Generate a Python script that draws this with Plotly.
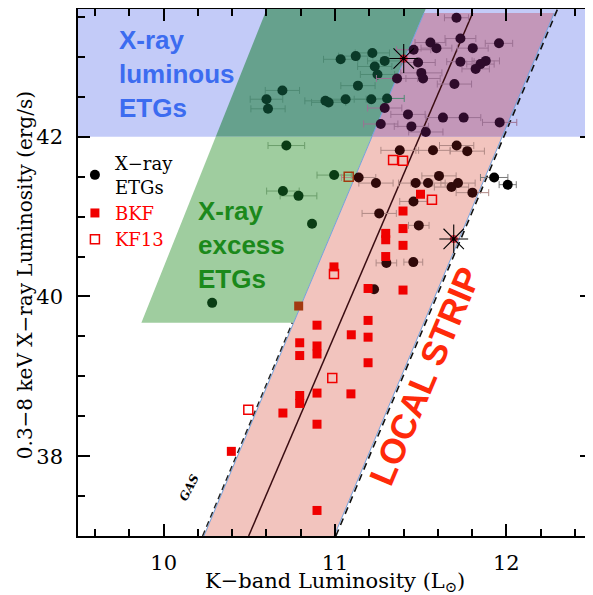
import plotly.graph_objects as go

# ---------------- data ----------------
# X-ray detected ETGs: log L_K, log L_X, horizontal error (dex)
etg_logLK = [11.709, 11.557, 11.592, 11.732, 11.804, 11.957, 11.459, 11.485, 11.504, 11.514,
             11.732, 11.880, 11.849, 11.821, 11.697, 11.426, 11.446, 11.530, 11.630, 11.751,
             11.961, 11.267, 11.290, 11.304, 11.362, 11.218, 11.121, 11.033, 11.290, 11.232,
             11.248, 11.134, 11.062, 10.944, 10.963, 11.212, 10.693, 10.600, 10.609, 10.716,
             10.696, 10.787, 10.866, 10.283, 10.995, 11.138, 11.239, 11.378, 11.572, 11.710,
             11.772, 11.607, 11.471, 11.543, 11.680, 11.718, 11.802, 11.929, 12.008, 11.458,
             11.258, 11.489, 11.457, 11.300, 11.228]
etg_logLX = [43.49, 43.18, 43.11, 43.23, 43.11, 43.17, 43.09, 42.93, 42.80, 42.73,
             42.94, 42.95, 42.91, 42.85, 42.66, 42.28, 42.13, 42.06, 42.24, 42.24,
             42.18, 42.16, 42.36, 42.48, 42.73, 43.05, 43.01, 42.97, 42.95, 42.88,
             42.78, 42.64, 42.47, 42.45, 42.43, 42.47, 42.58, 42.47, 42.35, 41.89,
             41.32, 41.26, 40.91, 39.92, 41.52, 41.49, 41.42, 41.83, 41.83, 41.89,
             41.82, 41.51, 41.42, 41.42, 41.37, 41.42, 41.30, 41.49, 41.40, 41.19,
             41.04, 40.89, 40.43, 40.42, 40.09]
etg_err = [0.07, 0.09, 0.09, 0.09, 0.09, 0.08, 0.10, 0.10, 0.12, 0.10,
           0.08, 0.08, 0.08, 0.08, 0.10, 0.10, 0.10, 0.10, 0.10, 0.10,
           0.10, 0.10, 0.10, 0.10, 0.12, 0.10, 0.10, 0.10, 0.10, 0.10,
           0.10, 0.10, 0.12, 0.12, 0.10, 0.10, 0.10, 0.095, 0.10, 0.107,
           0.095, 0.107, 0.0, 0.0, 0.10, 0.10, 0.10, 0.11, 0.10, 0.10,
           0.10, 0.10, 0.10, 0.10, 0.10, 0.10, 0.095, 0.08, 0.05, 0.08,
           0.10, 0.06, 0.055, 0.06, 0.0]

# BKF (filled red squares)
bkf_logLK = [11.499, 11.397, 11.397, 11.296, 11.296, 11.397, 11.296, 11.193, 11.397, 10.994,
             10.788, 10.895, 10.794, 10.794, 10.895, 10.895, 10.794, 10.794, 10.895, 10.696,
             10.895, 10.395, 10.895, 11.095, 11.193, 11.193, 11.193, 11.093]
bkf_logLX = [41.28, 41.07, 40.85, 40.79, 40.71, 40.64, 40.50, 40.10, 40.08, 40.37,
             39.88, 39.64, 39.42, 39.26, 39.38, 39.28, 38.76, 38.66, 38.79, 38.54,
             38.40, 38.06, 37.32, 39.52, 39.70, 39.49, 39.17, 38.78]

# KF13 (open red squares)
kf13_logLK = [11.339, 11.397, 11.080, 11.566, 10.994, 10.984, 10.494]
kf13_logLX = [41.71, 41.70, 41.50, 41.21, 40.28, 38.98, 38.58]

# asterisks
star_logLK = [11.401, 11.693]
star_logLX = [42.98, 40.72]

# axes
x_range = [9.5, 12.5]
y_range = [37.0, 43.6]
x_tickvals = [10, 11, 12]
x_ticktext = ["10", "11", "12"]
y_tickvals = [38, 40, 42]
y_ticktext = ["38", "40", "42"]
x_title = "K−band Luminosity (L<sub>⊙</sub>)"
y_title = "0.3−8 keV X−ray Luminosity (erg/s)"

# region definitions
lx_luminous = 42.0          # lower edge of "X-ray luminous" band
strip_base_y = 37.0
strip_left_x0 = 10.235      # strip left edge at y = 37
strip_right_x0 = 10.995     # strip right edge at y = 37
strip_slope = 5.1           # dlogLX / dlogLK
strip_top = 43.55
green_bottom = 39.67
green_left_x0 = 9.87        # green left edge at y = green_bottom
green_slope = 5.37
center_x0 = 10.496          # solid line at y = 37
center_slope = 5.01


def strip_l(y):
    return strip_left_x0 + (y - strip_base_y) / strip_slope


def strip_r(y):
    return strip_right_x0 + (y - strip_base_y) / strip_slope


def green_l(y):
    return green_left_x0 + (y - green_bottom) / green_slope


def region(x, y):
    upper = y >= lx_luminous
    if strip_l(y) <= x <= strip_r(y) and y <= strip_top:
        return "purple" if upper else "pink"
    if y >= green_bottom and green_l(y) <= x < strip_l(y):
        return "teal" if upper else "green"
    return "blue" if upper else "white"


fill_col = {"blue": "#c3cbf8", "green": "#9fcd9f", "teal": "#66a18d",
            "pink": "#f2c4be", "purple": "#c397b9"}
dot_col = {"white": "#000000", "blue": "#10143a", "teal": "#0a3a28",
           "green": "#0a3d14", "pink": "#300909", "purple": "#2e0b2b"}
err_col = {"white": "#7a7a7a", "blue": "#6a70a0", "teal": "#4f8a74",
           "green": "#6c9e6c", "pink": "#b08a86", "purple": "#9c7193"}
red_col = {"white": "#f00000", "blue": "#f00000", "teal": "#a33a10",
           "green": "#a33a10", "pink": "#f00000", "purple": "#f00000"}


def path(pts):
    return "M " + " L ".join(f"{px:.4f},{py:.4f}" for px, py in pts) + " Z"


shapes = []
# blue band
shapes.append(dict(type="rect", xref="x", yref="y", x0=x_range[0], x1=x_range[1],
                   y0=lx_luminous, y1=y_range[1], fillcolor=fill_col["blue"],
                   line=dict(width=0), layer="below"))
ytop = y_range[1]
polys = {
    "teal": [(green_l(lx_luminous), lx_luminous), (green_l(ytop), ytop),
             (strip_l(ytop), ytop), (strip_l(lx_luminous), lx_luminous)],
    "green": [(green_l(green_bottom), green_bottom), (green_l(lx_luminous), lx_luminous),
              (strip_l(lx_luminous), lx_luminous), (strip_l(green_bottom), green_bottom)],
    "pink": [(strip_l(strip_base_y), strip_base_y), (strip_r(strip_base_y), strip_base_y),
             (strip_r(lx_luminous), lx_luminous), (strip_l(lx_luminous), lx_luminous)],
    "purple": [(strip_l(lx_luminous), lx_luminous), (strip_r(lx_luminous), lx_luminous),
               (strip_r(strip_top), strip_top), (strip_l(strip_top), strip_top)],
}
for k, pts in polys.items():
    shapes.append(dict(type="path", xref="x", yref="y", path=path(pts),
                       fillcolor=fill_col[k], line=dict(width=0), layer="below"))

# strip edges (thin blue)
for f in (strip_l, strip_r):
    shapes.append(dict(type="line", xref="x", yref="y", x0=f(strip_base_y), y0=strip_base_y,
                       x1=f(strip_top), y1=strip_top, line=dict(color="#74a0dc", width=1),
                       layer="below"))
# dashed lines
shapes.append(dict(type="line", xref="x", yref="y", x0=strip_l(strip_base_y) - 0.008, y0=strip_base_y,
                   x1=strip_l(green_bottom) - 0.008, y1=green_bottom,
                   line=dict(color="#222222", width=1.4, dash="6px,4px"), layer="below"))
shapes.append(dict(type="line", xref="x", yref="y", x0=strip_r(strip_base_y) + 0.01, y0=strip_base_y,
                   x1=strip_r(ytop) + 0.01, y1=ytop,
                   line=dict(color="#111111", width=1.6, dash="7px,5px"), layer="below"))
# central solid line
shapes.append(dict(type="line", xref="x", yref="y", x0=center_x0, y0=strip_base_y,
                   x1=center_x0 + (strip_top - strip_base_y) / center_slope, y1=strip_top,
                   line=dict(color="#3a0d12", width=1.5), layer="below"))

fig = go.Figure()

# ETGs split by region (error bar colour differs by region)
order = ["white", "teal", "purple", "green", "pink", "blue"]
groups = {k: ([], [], []) for k in order}
for x, y, e in zip(etg_logLK, etg_logLX, etg_err):
    g = groups[region(x, y)]
    g[0].append(x); g[1].append(y); g[2].append(e)
first = True
for k in order:
    xs, ys, es = groups[k]
    if not xs and not first:
        continue
    fig.add_trace(go.Scatter(
        x=xs, y=ys, mode="markers", name="X−ray<br>ETGs",
        showlegend=first, legendgroup="etg",
        marker=dict(symbol="circle", size=10, color=dot_col[k]),
        error_x=dict(type="data", array=es, visible=True, color=err_col[k],
                     thickness=1, width=3.5),
    ))
    first = False

fig.add_trace(go.Scatter(
    x=bkf_logLK, y=bkf_logLX, mode="markers",
    name="<span style='color:#ff0000'>BKF</span>",
    marker=dict(symbol="square", size=9,
                color=[red_col[region(x, y)] for x, y in zip(bkf_logLK, bkf_logLX)],
                line=dict(width=0)),
))
fig.add_trace(go.Scatter(
    x=kf13_logLK, y=kf13_logLX, mode="markers",
    name="<span style='color:#ff0000'>KF13</span>",
    marker=dict(symbol="square-open", size=9,
                color=[red_col[region(x, y)] for x, y in zip(kf13_logLK, kf13_logLX)],
                line=dict(width=1.5)),
))
fig.add_trace(go.Scatter(
    x=star_logLK, y=star_logLX, mode="markers", showlegend=False,
    marker=dict(symbol="circle", size=8, color="rgba(225,10,40,0.8)"),
))
fig.add_trace(go.Scatter(
    x=star_logLK, y=star_logLX, mode="markers", showlegend=False,
    marker=dict(symbol="asterisk-open", size=24, color="black",
                line=dict(width=1.1, color="black")),
))

serif = "DejaVu Serif"
annotations = [
    dict(x=9.726, y=42.79, xref="x", yref="y", xanchor="left", yanchor="middle",
         text="X-ray<br>luminous<br>ETGs", showarrow=False, align="left",
         font=dict(family="Liberation Sans", size=26, color="#3c6cf0", weight="bold")),
    dict(x=10.187, y=40.64, xref="x", yref="y", xanchor="left", yanchor="middle",
         text="X-ray<br>excess<br>ETGs", showarrow=False, align="left",
         font=dict(family="Liberation Sans", size=26, color="#1b891b", weight="bold")),
    dict(x=11.524, y=39.01, xref="x", yref="y", xanchor="center", yanchor="middle",
         text="LOCAL STRIP", showarrow=False, textangle=-67,
         font=dict(family="Liberation Sans", size=35, color="#ff2a0a", weight="bold")),
    dict(x=10.152, y=37.61, xref="x", yref="y", xanchor="center", yanchor="middle",
         text="GAS", showarrow=False, textangle=-63,
         font=dict(family=serif, size=12, color="black", weight="bold", style="italic")),
    # axis titles
    dict(x=0.5, y=-0.087, xref="paper", yref="paper", xanchor="center", yanchor="middle",
         text=x_title, showarrow=False, font=dict(family=serif, size=21, color="black")),
    dict(x=-0.103, y=0.495, xref="paper", yref="paper", xanchor="center", yanchor="middle",
         text=y_title, showarrow=False, textangle=-90,
         font=dict(family=serif, size=20, color="black")),
]

axis_common = dict(
    showline=True, linecolor="black", linewidth=1.5, mirror="allticks",
    ticks="inside", tickcolor="black", tickwidth=1.5, showgrid=False, zeroline=False,
    tickfont=dict(family=serif, size=21, color="black"), automargin=False,
)

# the page body adds an 8 px offset, so the figure is 8 px smaller than the window
fig.update_layout(
    width=585, height=587,
    margin=dict(l=70, r=1, t=1, b=59, autoexpand=False),
    paper_bgcolor="white", plot_bgcolor="white",
    shapes=shapes, annotations=annotations,
    showlegend=True,
    legend=dict(x=-0.006, y=0.742, xanchor="left", yanchor="top",
                bgcolor="rgba(0,0,0,0)", borderwidth=0,
                font=dict(family=serif, size=18, color="black"),
                tracegroupgap=0, itemsizing="trace"),
    xaxis=dict(range=x_range, tickvals=x_tickvals, ticktext=x_ticktext, ticklen=12,
               minor=dict(ticks="inside", dtick=0.2, ticklen=7, tickcolor="black", tickwidth=1.5),
               ticklabelstandoff=7, **axis_common),
    yaxis=dict(range=y_range, tickvals=y_tickvals, ticktext=y_ticktext, ticklen=12,
               minor=dict(ticks="inside", dtick=0.5, ticklen=7, tickcolor="black", tickwidth=1.5),
               ticklabelstandoff=9, **axis_common),
)

fig.write_html("out.html")
